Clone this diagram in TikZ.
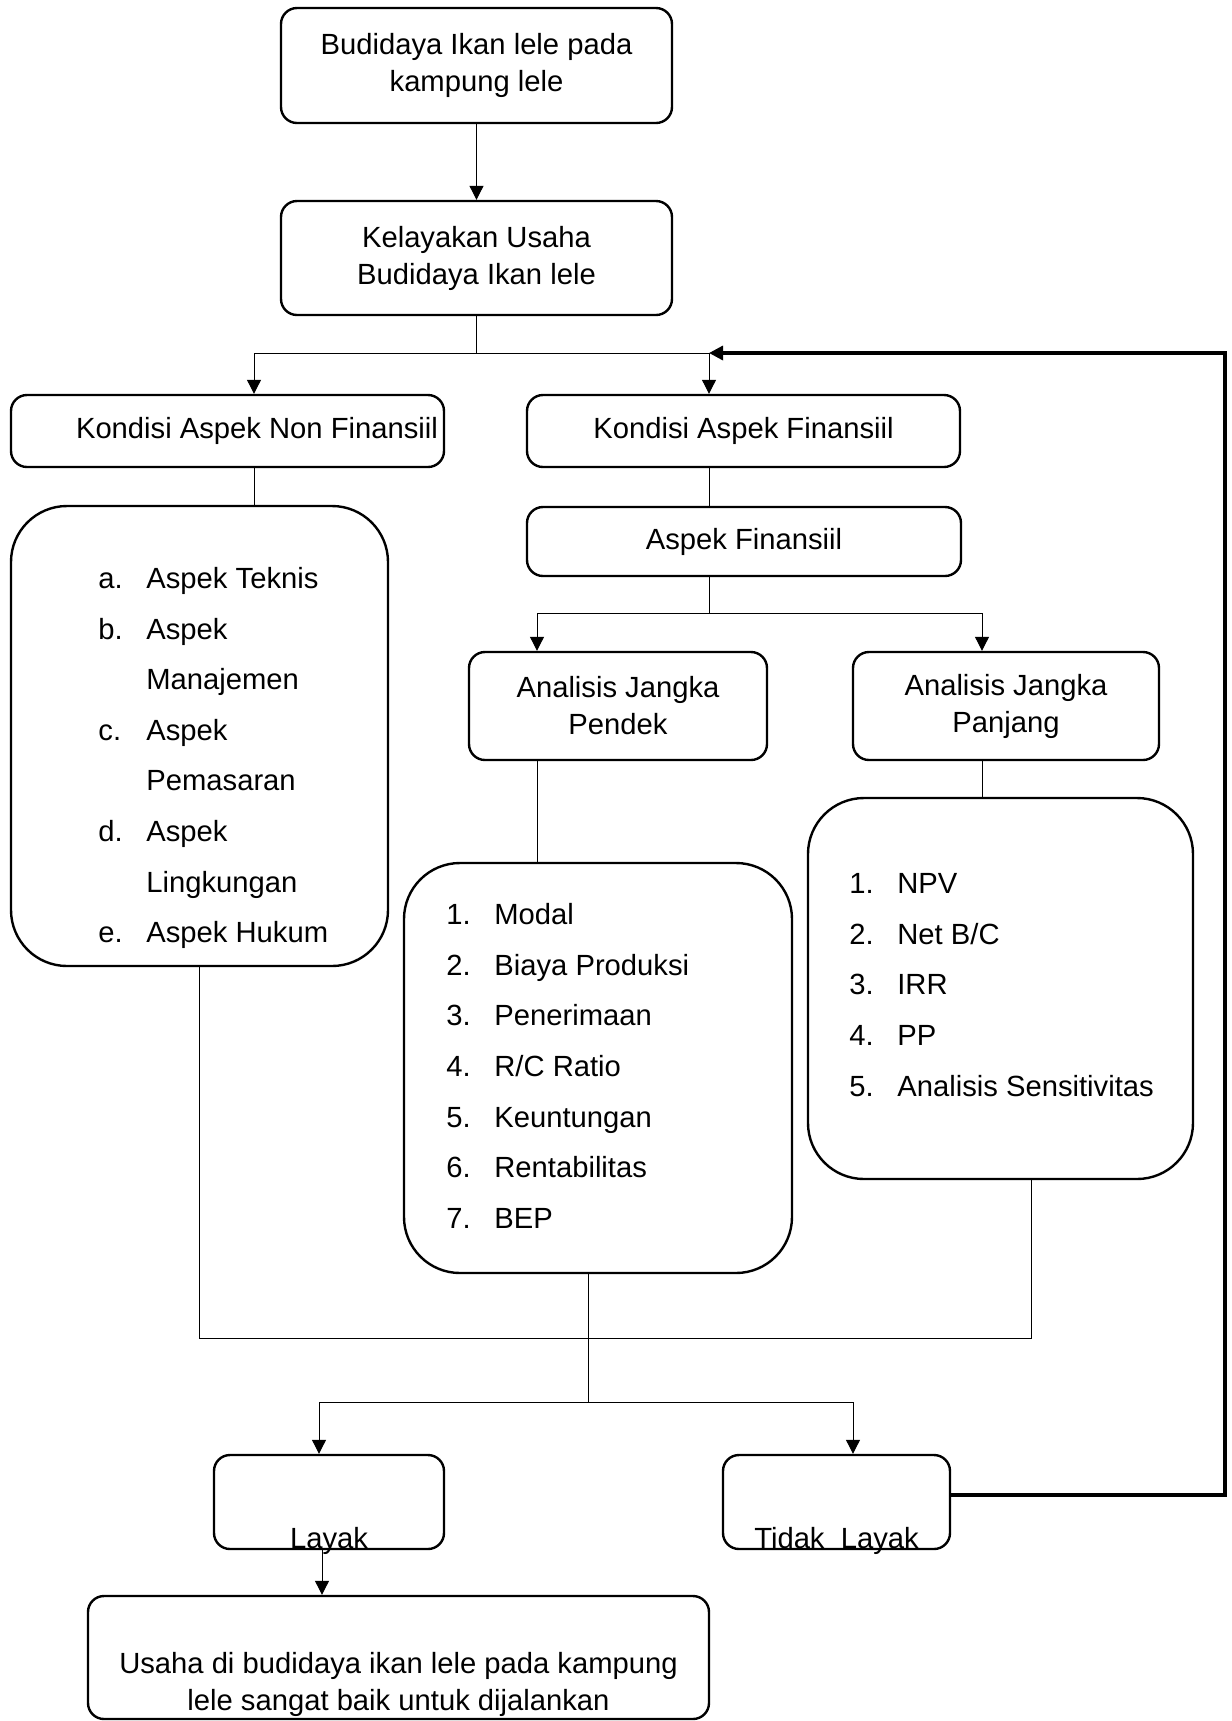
\documentclass[tikz,border=0pt]{standalone}
\usepackage{fontspec}
\setmainfont{Liberation Sans}
\usetikzlibrary{arrows.meta}

\newcommand{\itm}[2]{\makebox[24pt][l]{#1}#2}
\newcommand{\cnt}[1]{\hspace*{24pt}#1}

\begin{document}
\begin{tikzpicture}[x=0.5pt, y=-0.5pt,
  font=\fontsize{14.6}{18.5}\selectfont,
  >={Triangle[length=7pt,width=7pt]},
  box/.style={draw, line width=1.2pt, rounded corners=8pt, align=center, inner sep=0pt},
  listbox/.style={draw, line width=1.2pt, rounded corners=28pt},
  listtext/.style={anchor=west, align=left, inner sep=0pt, font=\fontsize{14.6}{25.3}\selectfont},
  link/.style={line width=0.5pt},
  loopback/.style={line width=1.6pt}]
\useasboundingbox (0,0) rectangle (1232,1721);

% boxes
\node[box, minimum width=195.5pt, minimum height=57.5pt] (budidaya) at (476.5,65.5) {Budidaya Ikan lele pada\\kampung lele};
\node[box, minimum width=195.5pt, minimum height=57pt] (kelayakan) at (476.5,258) {Kelayakan Usaha\\Budidaya Ikan lele};
\node[box, minimum width=216.5pt, minimum height=36pt] (nonfin) at (227.5,431) {\hspace*{29.5pt}Kondisi Aspek Non Finansiil};
\node[box, minimum width=216.5pt, minimum height=36pt] (kondfin) at (743.5,431) {Kondisi Aspek Finansiil};
\node[box, minimum width=217pt, minimum height=34.5pt] (aspfin) at (744,541.5) {Aspek Finansiil};
\node[box, minimum width=149pt, minimum height=54pt] (pendek) at (618,706) {Analisis Jangka\\Pendek};
\node[box, minimum width=153pt, minimum height=54pt] (panjang) at (1006,706) {Analisis Jangka\\Panjang};

\node[listbox, minimum width=188.5pt, minimum height=230pt] (nonfinlist) at (199.5,736) {};
\node[listbox, minimum width=194pt, minimum height=205pt] (pendeklist) at (598,1068) {};
\node[listbox, minimum width=192.5pt, minimum height=190.5pt] (panjanglist) at (1000.5,988.5) {};

\node[listtext] (nonfinitems) at (98,758) {\itm{a.}{Aspek Teknis}\\
  \itm{b.}{Aspek}\\ \cnt{Manajemen}\\
  \itm{c.}{Aspek}\\ \cnt{Pemasaran}\\
  \itm{d.}{Aspek}\\ \cnt{Lingkungan}\\
  \itm{e.}{Aspek Hukum}};
\node[listtext] (pendekitems) at (446,1066) {\itm{1.}{Modal}\\ \itm{2.}{Biaya Produksi}\\
  \itm{3.}{Penerimaan}\\ \itm{4.}{R/C Ratio}\\ \itm{5.}{Keuntungan}\\
  \itm{6.}{Rentabilitas}\\ \itm{7.}{BEP}};
\node[listtext] (panjangitems) at (849,985) {\itm{1.}{NPV}\\ \itm{2.}{Net B/C}\\
  \itm{3.}{IRR}\\ \itm{4.}{PP}\\ \itm{5.}{Analisis Sensitivitas}};

\node[box, minimum width=115pt, minimum height=47pt,
  label={[anchor=base, yshift=1pt, inner sep=0pt]below:Layak}] (layak) at (329,1502) {};
\node[box, minimum width=113.5pt, minimum height=47pt,
  label={[anchor=base, yshift=1pt, inner sep=0pt]below:Tidak~~Layak}] (tidak) at (836.5,1502) {};
\node[box, minimum width=310.5pt, minimum height=61.5pt,
  label={[anchor=north, yshift=-28.5pt, inner sep=0pt, align=center]above:Usaha di budidaya ikan lele pada kampung\\lele sangat baik untuk dijalankan}] (hasil) at (398.5,1657.5) {};

% junctions
\coordinate (fork1) at (476.5,353);
\coordinate (fork2) at (709,613);
\coordinate (merge) at (588,1338);
\coordinate (fork3) at (588,1402);
\coordinate (loopturn) at (1225,353);
\coordinate (loopend) at (709,353);

% connectors
\draw[link,->] (budidaya) -- (kelayakan);
\draw[link] (kelayakan) -- (fork1);
\draw[link,->] (fork1) -| ([xshift=13.25pt]nonfin.north);
\draw[link,->] (fork1) -| ([xshift=-17.25pt]kondfin.north);
\draw[link] ([xshift=13.25pt]nonfin.south) -- ([xshift=13.25pt]nonfin.south |- nonfinlist.north);
\draw[link] ([xshift=-17.25pt]kondfin.south) -- ([xshift=-17.25pt]kondfin.south |- aspfin.north);
\draw[link] ([xshift=-17.5pt]aspfin.south) -- (fork2);
\draw[link,->] (fork2) -| ([xshift=-40.5pt]pendek.north);
\draw[link,->] (fork2) -| ([xshift=-12pt]panjang.north);
\draw[link] ([xshift=-40.5pt]pendek.south) -- ([xshift=-40.5pt]pendek.south |- pendeklist.north);
\draw[link] ([xshift=-12pt]panjang.south) -- ([xshift=-12pt]panjang.south |- panjanglist.north);
\draw[link] (nonfinlist.south) |- (merge) -| ([xshift=15.25pt]panjanglist.south);
\draw[link] ([xshift=-5pt]pendeklist.south) -- (fork3);
\draw[link,->] (fork3) -| ([xshift=-5pt]layak.north);
\draw[link,->] (fork3) -| ([xshift=8.25pt]tidak.north);
\draw[link,->] ([xshift=-3.5pt]layak.south) -- ([xshift=-3.5pt]layak.south |- hasil.north);
\draw[loopback,->] ([yshift=3.5pt]tidak.east) -| (loopturn) -- (loopend);

\end{tikzpicture}
\end{document}
